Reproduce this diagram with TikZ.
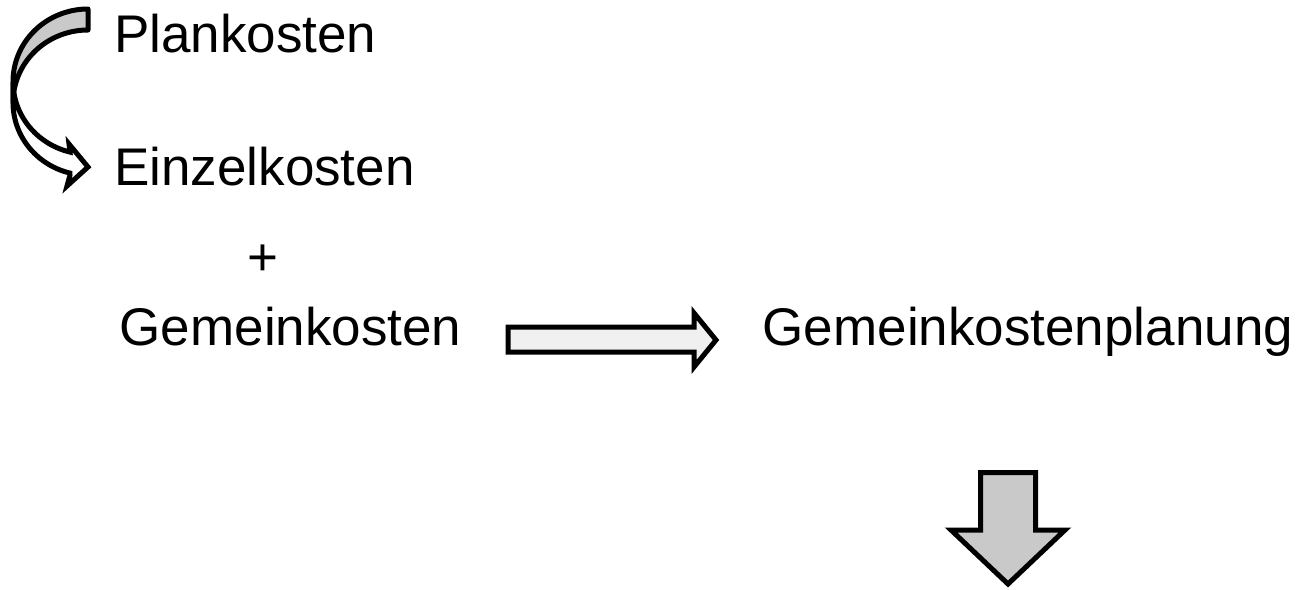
\documentclass[tikz,border=0pt]{standalone}
\usepackage{fontspec}
\setmainfont{Liberation Sans}
\begin{document}
\begin{tikzpicture}[x=1pt,y=-1pt,
  lbl/.style={inner sep=0pt,anchor=base west,font=\fontsize{53}{60}\selectfont},
  blk/.style={draw=black,line width=5pt,line join=miter,miter limit=10}]
\useasboundingbox (0,0) rectangle (1306,589);
% texts
\node[lbl] (plan) at (114,52) {Plankosten};
\node[lbl] (einzel) at (114,185) {Einzelkosten};
\node[lbl,anchor=base] (plus) at (263,275) {+};
\node[lbl] (gemein) at (119.5,345) {Gemeinkosten};
\node[lbl] (gplan) at (762.5,345) {Gemeinkostenplanung};
% curved arrow: upper (back) band
\draw[blk,fill=black!21,line join=round]
  plot[domain=270:180,samples=40] ({88+75*cos(\x)},{81.6+72.6*sin(\x)})
  -- (13,102.6)
  -- plot[domain=180:270,samples=40] ({88+75*cos(\x)},{102.6+72.6*sin(\x)})
  -- cycle;
% curved arrow: lower (front) band with head
\draw[blk,fill=white]
  plot[domain=180:103.9,samples=40] ({88+75*cos(\x)},{81.6+72.6*sin(\x)})
  -- (69,144) -- (88,167) -- (67,186) -- (70,175)
  -- plot[domain=103.9:180,samples=40] ({88+75*cos(\x)},{102.6+72.6*sin(\x)})
  -- cycle;
% right block arrow
\coordinate (ra) at (508,339.5);
\draw[blk,fill=black!6]
  (ra) ++(0,-12.5) -- (694,327) -- (694,313) -- (716,340) -- (694,367)
  -- (694,352) -- (508,352) -- cycle;
% down block arrow
\coordinate (da) at (1008,472.5);
\draw[blk,fill=black!21]
  (980.5,472.5) -- (1035.5,472.5) -- (1035.5,530) -- (1065,530)
  -- (1008,584) -- (951,530) -- (980.5,530) -- cycle;
\end{tikzpicture}
\end{document}
